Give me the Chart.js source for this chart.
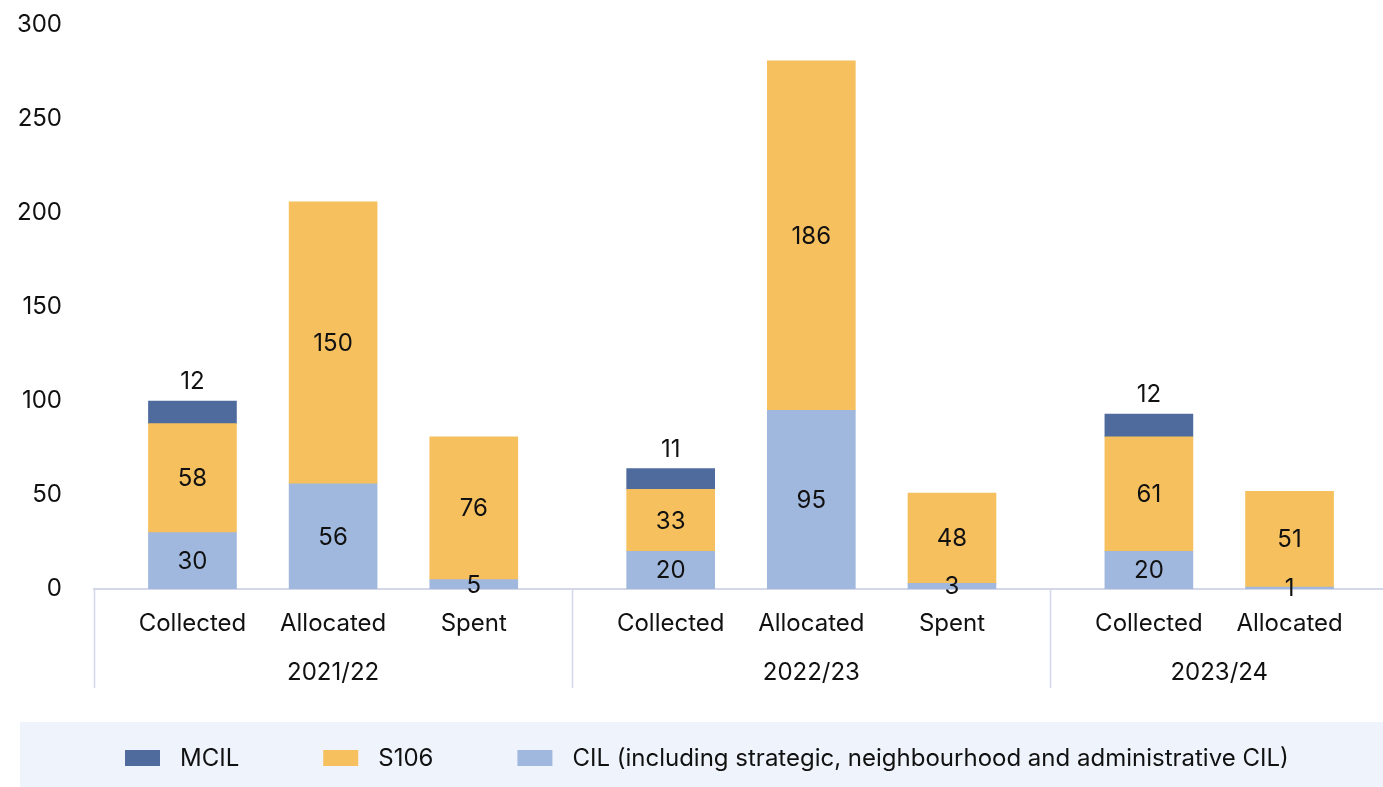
<!DOCTYPE html>
<html>
<head>
<meta charset="utf-8">
<script src="https://cdn.jsdelivr.net/npm/chart.js@4/dist/chart.umd.min.js"></script>
<style>
  html, body { margin: 0; padding: 0; background: #fff; overflow: hidden; }
  /* plot runs a little past the right edge of the window, as in the original */
  #wrap { width: 1388px; height: 787px; position: relative; }
</style>
</head>
<body>
<div id="wrap"><canvas id="myChart"></canvas></div>
<script>
// data
var years = ['2021/22', '2022/23', '2023/24'];
var stages = [['Collected', 'Allocated', 'Spent'], ['Collected', 'Allocated', 'Spent'], ['Collected', 'Allocated']];
var mcil = [12, null, null, 11, null, null, 12, null];
var s106 = [58, 150, 76, 33, 186, 48, 61, 51];
var cil = [30, 56, 5, 20, 95, 3, 20, 1];
var yTicks = [0, 50, 100, 150, 200, 250, 300];
var seriesNames = ['MCIL', 'S106', 'CIL (including strategic, neighbourhood and administrative CIL)'];
var seriesColors = ['#4f6b9e', '#f6c05e', '#a1b8de'];

// each year group gets thin slots so the gap between groups is wider than between bars
var slotLabels = [];
var slotIndex = [];
var groupBounds = [];
for (var g = 0; g < years.length; g++) {
  var start = slotLabels.length;
  var n = stages[g].length;
  var width = 7 + 5 * (n - 1);
  for (var s = 0; s < width; s++) slotLabels.push('');
  for (var k = 0; k < n; k++) {
    slotLabels[start + 3 + 5 * k] = stages[g][k];
    slotIndex.push(start + 3 + 5 * k);
  }
  groupBounds.push([start, start + width]);
}
function spread(arr) {
  var out = slotLabels.map(function () { return null; });
  for (var i = 0; i < arr.length; i++) out[slotIndex[i]] = arr[i];
  return out;
}

var FONT = 'Inter, "Noto Sans", sans-serif';
var AXIS = '#d3d7e8';
var TXT = '#111';

var extras = {
  id: 'extras',
  afterDatasetsDraw: function (chart) {
    var c = chart.ctx;
    c.save();
    c.font = '24px ' + FONT;
    c.fillStyle = TXT;
    c.textAlign = 'center';
    c.textBaseline = 'middle';
    chart.data.datasets.forEach(function (ds, di) {
      var meta = chart.getDatasetMeta(di);
      meta.data.forEach(function (el, i) {
        var v = ds.data[i];
        if (v == null) return;
        if (ds.label === 'MCIL') {
          c.fillText(v, el.x, el.y - 19);
        } else {
          c.fillText(v, el.x, (el.y + el.base) / 2 + 1);
        }
      });
    });
    c.restore();
  },
  afterDraw: function (chart) {
    var c = chart.ctx;
    var area = chart.chartArea;
    var unit = (area.right - area.left) / slotLabels.length;
    c.save();
    // group dividers and year labels
    c.strokeStyle = AXIS;
    c.lineWidth = 1.5;
    c.font = '24px ' + FONT;
    c.fillStyle = TXT;
    c.textAlign = 'center';
    c.textBaseline = 'middle';
    groupBounds.forEach(function (b, g) {
      var x0 = area.left + b[0] * unit;
      var x1 = area.left + b[1] * unit;
      c.beginPath();
      c.moveTo(Math.round(x0) + 0.5, area.bottom);
      c.lineTo(Math.round(x0) + 0.5, area.bottom + 99);
      c.stroke();
      c.fillText(years[g], (x0 + x1) / 2, area.bottom + 84);
    });
    // legend panel
    c.fillStyle = '#eef3fc';
    c.fillRect(20, 722, chart.width - 20, 65);
    var x = 125;
    c.textAlign = 'left';
    for (var i = 0; i < seriesNames.length; i++) {
      c.fillStyle = seriesColors[i];
      c.fillRect(x, 750, 35, 16);
      c.fillStyle = TXT;
      c.fillText(seriesNames[i], x + 55, 759);
      x += 55 + c.measureText(seriesNames[i]).width + 84;
    }
    c.restore();
  }
};

var ctx = document.getElementById('myChart');
new Chart(ctx, {
  type: 'bar',
  data: {
    labels: slotLabels,
    datasets: [
      { label: 'CIL', data: spread(cil), backgroundColor: seriesColors[2] },
      { label: 'S106', data: spread(s106), backgroundColor: seriesColors[1] },
      { label: 'MCIL', data: spread(mcil), backgroundColor: seriesColors[0] }
    ]
  },
  options: {
    responsive: true,
    maintainAspectRatio: false,
    animation: false,
    layout: { padding: { top: 25, right: 0, left: 0, bottom: 0 } },
    datasets: { bar: { barThickness: 88, skipNull: true } },
    plugins: {
      legend: { display: false },
      tooltip: { enabled: false }
    },
    scales: {
      x: {
        stacked: true,
        grid: { display: false, drawTicks: false, tickLength: 0 },
        border: { display: true, color: AXIS, width: 2 },
        ticks: {
          autoSkip: false, maxRotation: 0, minRotation: 0,
          padding: 20, color: TXT, font: { family: FONT, size: 24 }
        },
        afterFit: function (scale) {
          scale.height = 198;
          scale.paddingLeft = 0;
          scale.paddingRight = 0;
        }
      },
      y: {
        stacked: true,
        min: 0, max: 300,
        afterBuildTicks: function (scale) {
          scale.ticks = yTicks.map(function (v) { return { value: v }; });
        },
        grid: { display: false, drawTicks: false, tickLength: 0 },
        border: { display: false },
        ticks: { padding: 32, color: TXT, font: { family: FONT, size: 24 } },
        afterFit: function (scale) {
          scale.width = 94;
          scale.paddingTop = 0;
          scale.paddingBottom = 0;
        }
      }
    }
  },
  plugins: [extras]
});
</script>
</body>
</html>
